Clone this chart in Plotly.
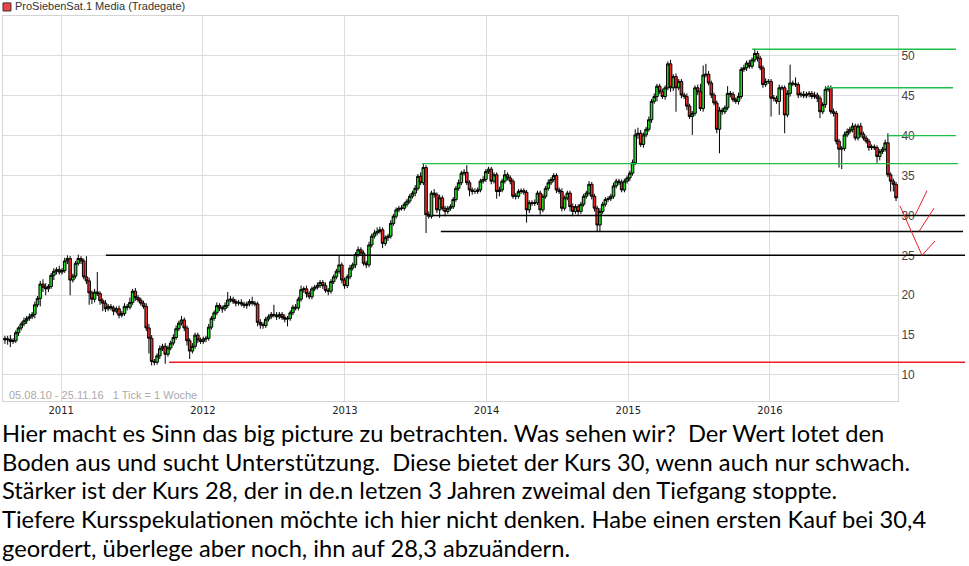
import datetime as dt
import plotly.graph_objects as go

# Weekly closing prices (EUR), one list per calendar year
close_2010 = [14.4, 14.5, 14.2, 14.3, 15.3, 15.9, 16.4, 16.8, 17.1, 17.3,
              17.6, 18.8, 19.6, 21.4, 21.0, 20.8, 21.1, 22.5, 23.0, 23.2,
              22.9]
close_2011 = [23.1, 24.3, 24.6, 21.9, 22.4, 24.0, 24.6, 24.3, 22.3, 21.8,
              20.3, 19.5, 20.4, 20.2, 19.3, 19.0, 18.3, 18.6, 18.4, 18.0,
              18.3, 17.5, 17.7, 18.6, 18.5, 19.1, 20.5, 19.7, 19.4, 19.0,
              18.6, 15.9, 14.6, 11.7, 11.6, 12.4, 13.3, 13.6, 12.6, 13.4,
              14.0, 14.7, 15.8, 16.5, 16.9, 15.9, 14.3, 13.0, 13.6, 15.0,
              14.4, 14.2]
close_2012 = [14.5, 14.6, 16.0, 17.1, 17.8, 18.7, 18.4, 18.3, 18.7, 19.4,
              19.5, 19.2, 19.0, 19.1, 18.9, 18.7, 18.9, 19.2, 19.0, 18.9,
              16.6, 16.3, 16.2, 17.0, 17.3, 17.6, 17.5, 17.3, 17.6, 17.2,
              17.0, 17.1, 17.8, 18.5, 18.4, 19.5, 20.7, 20.8, 20.2, 19.8,
              20.8, 21.0, 21.2, 21.6, 21.2, 20.6, 20.5, 21.7, 22.3, 23.0,
              23.8, 21.9]
close_2013 = [21.2, 22.3, 23.4, 23.8, 25.1, 25.7, 25.3, 24.0, 23.8, 26.3,
              27.4, 27.8, 28.0, 28.2, 26.5, 27.2, 27.4, 29.0, 29.9, 30.7,
              30.9, 30.9, 31.4, 31.8, 32.4, 32.8, 33.4, 34.9, 34.1, 36.0,
              30.1, 29.9, 32.8, 32.6, 30.7, 32.2, 30.9, 30.5, 30.9, 31.1,
              32.0, 33.4, 34.1, 35.3, 35.4, 34.1, 33.2, 33.0, 33.0, 33.2,
              34.3, 34.5]
close_2014 = [35.5, 35.8, 34.3, 35.1, 33.0, 33.2, 34.3, 35.1, 34.7, 34.3,
              32.4, 32.4, 33.0, 33.1, 32.9, 30.7, 31.6, 31.5, 31.6, 32.8,
              30.7, 32.4, 33.4, 34.1, 34.5, 35.0, 33.2, 33.0, 30.9, 32.2,
              32.8, 31.1, 30.5, 31.1, 30.5, 31.4, 32.4, 32.8, 33.9, 32.4,
              30.9, 28.8, 30.5, 31.4, 32.0, 32.1, 32.4, 33.7, 34.3, 34.1,
              33.2, 34.3]
close_2015 = [34.7, 35.3, 36.6, 40.1, 40.3, 38.9, 40.1, 40.8, 42.0, 44.3,
              44.9, 46.2, 45.5, 44.9, 46.0, 49.0, 46.0, 47.4, 46.0, 46.8,
              45.1, 44.9, 43.7, 42.4, 42.8, 46.0, 45.5, 43.4, 47.6, 47.7,
              46.6, 45.1, 44.1, 40.8, 43.2, 43.0, 43.5, 45.3, 45.2, 44.5,
              44.3, 44.9, 48.3, 48.5, 49.1, 48.7, 49.5, 50.3, 49.7, 48.5,
              46.4, 46.8]
close_2016 = [46.8, 44.7, 44.7, 44.3, 46.0, 46.0, 42.6, 45.3, 46.6, 46.5,
              46.4, 45.1, 45.2, 45.0, 45.2, 45.3, 44.9, 45.1, 44.7, 43.0,
              43.9, 45.8, 46.0, 43.0, 42.8, 39.3, 38.3, 38.4, 40.1, 40.5,
              40.8, 41.2, 39.7, 41.2, 40.2, 39.7, 39.3, 38.5, 38.6, 38.5,
              37.4, 38.0, 38.3, 39.1, 35.1, 34.3, 33.9, 32.2]

# Upper shadow above the body, per week
wick_up_2010 = [0.3, 0.4, 0.5, 0.3, 0.3, 0.2, 0.3, 0.4, 0.3, 0.4,
                0.3, 0.4, 0.3, 0.4, 0.6, 0.5, 0.3, 0.3, 0.4, 0.3,
                0.5]
wick_up_2011 = [0.3, 0.4, 0.4, 0.3, 0.3, 0.3, 0.5, 0.3, 0.3, 2.6,
                0.4, 0.3, 0.4, 2.5, 0.3, 0.3, 0.4, 0.3, 0.3, 0.3,
                0.3, 0.4, 0.3, 0.4, 0.3, 0.6, 0.3, 0.4, 0.3, 0.3,
                0.3, 0.4, 0.5, 0.4, 0.3, 0.3, 0.4, 0.3, 0.4, 0.3,
                0.3, 0.4, 0.4, 0.3, 0.5, 0.3, 0.3, 0.3, 0.4, 0.3,
                0.3, 0.3]
wick_up_2012 = [0.3, 0.3, 0.4, 0.3, 0.3, 0.4, 0.3, 0.3, 0.4, 1.0,
                0.4, 0.3, 0.3, 0.3, 0.4, 0.3, 0.3, 0.3, 0.6, 0.3,
                0.3, 0.4, 0.3, 0.3, 0.3, 0.3, 1.2, 0.4, 0.3, 0.3,
                0.4, 0.3, 0.3, 0.3, 0.4, 0.3, 0.5, 0.3, 0.4, 0.3,
                0.3, 0.3, 0.4, 0.3, 0.3, 0.4, 0.3, 0.3, 0.3, 0.3,
                1.2, 0.3]
wick_up_2013 = [0.3, 0.3, 0.4, 0.3, 0.3, 0.4, 0.3, 0.3, 0.3, 0.4,
                0.3, 0.4, 0.5, 0.4, 0.3, 0.3, 0.3, 0.4, 0.3, 0.3,
                0.3, 0.4, 0.3, 0.3, 0.3, 0.3, 0.4, 0.3, 0.5, 0.5,
                0.3, 0.4, 0.3, 0.5, 0.3, 0.4, 0.3, 0.3, 0.3, 0.3,
                0.3, 0.3, 0.4, 0.3, 0.4, 0.9, 0.3, 0.3, 0.4, 0.3,
                0.3, 0.4]
wick_up_2014 = [0.3, 0.3, 0.3, 0.3, 0.3, 0.4, 0.3, 0.6, 0.3, 0.3,
                0.3, 0.4, 0.3, 0.3, 0.3, 0.3, 0.3, 0.3, 0.4, 0.3,
                0.3, 0.3, 0.3, 0.4, 0.3, 0.3, 0.3, 0.3, 0.4, 0.3,
                0.3, 0.3, 0.4, 0.3, 0.3, 0.3, 0.3, 0.3, 0.4, 0.3,
                0.3, 0.3, 0.4, 0.3, 0.3, 0.3, 0.3, 0.4, 0.3, 0.3,
                0.4, 0.3]
wick_up_2015 = [0.3, 0.3, 0.4, 0.7, 0.7, 0.4, 0.3, 0.3, 0.4, 0.3,
                0.4, 0.3, 0.3, 0.4, 0.3, 0.3, 0.5, 0.3, 0.4, 0.3,
                0.3, 0.3, 0.4, 0.3, 0.3, 0.3, 0.4, 1.0, 1.2, 1.3,
                0.4, 0.3, 0.3, 0.3, 0.4, 0.3, 0.3, 0.9, 0.3, 0.3,
                0.3, 0.5, 0.3, 0.4, 0.3, 0.4, 0.3, 0.6, 0.3, 0.3,
                0.3, 0.4]
wick_up_2016 = [0.3, 0.3, 0.4, 0.3, 0.4, 0.3, 0.3, 0.4, 2.3, 0.3,
                0.8, 0.3, 0.3, 0.4, 0.3, 0.3, 0.3, 0.4, 0.3, 0.3,
                0.3, 0.4, 0.3, 0.3, 0.4, 0.3, 0.3, 0.3, 0.4, 0.4,
                0.3, 0.4, 0.3, 0.3, 0.4, 0.3, 0.3, 0.3, 0.3, 0.3,
                0.3, 0.3, 0.3, 0.4, 1.2, 0.3, 0.3, 0.3]

# Lower shadow below the body, per week
wick_dn_2010 = [0.5, 0.6, 0.7, 0.3, 0.3, 0.4, 0.3, 0.3, 0.4, 0.3,
                0.3, 0.5, 0.3, 1.0, 0.6, 0.8, 0.4, 0.3, 0.6, 0.4,
                0.3]
wick_dn_2011 = [0.3, 0.3, 0.4, 1.9, 0.3, 0.3, 0.3, 0.4, 0.3, 0.4,
                1.5, 0.6, 0.4, 0.3, 0.5, 1.0, 0.4, 0.3, 0.3, 0.5,
                0.3, 0.4, 0.3, 0.3, 0.4, 0.3, 0.3, 0.4, 0.3, 0.3,
                0.3, 0.4, 1.9, 0.5, 0.4, 0.3, 0.4, 0.3, 1.2, 0.3,
                0.3, 0.3, 0.3, 0.3, 0.3, 0.4, 0.6, 1.0, 0.3, 0.3,
                0.4, 0.3]
wick_dn_2012 = [0.3, 0.4, 0.3, 0.3, 0.3, 0.3, 0.4, 0.5, 0.3, 0.3,
                0.3, 0.3, 0.4, 0.3, 0.3, 0.3, 0.4, 0.3, 0.3, 0.3,
                0.5, 0.5, 0.4, 0.3, 0.3, 0.3, 0.3, 0.4, 0.3, 0.3,
                0.4, 0.9, 0.3, 0.3, 0.3, 0.3, 0.3, 0.4, 0.5, 0.3,
                0.3, 0.3, 0.3, 0.3, 0.4, 0.3, 0.5, 0.3, 0.3, 0.3,
                0.3, 0.4]
wick_dn_2013 = [0.4, 0.3, 0.3, 0.3, 0.4, 0.3, 0.3, 0.3, 0.4, 0.3,
                0.3, 0.3, 0.3, 0.3, 0.6, 0.3, 0.4, 0.3, 0.3, 0.3,
                0.3, 0.3, 0.3, 0.3, 0.3, 0.3, 0.4, 0.3, 0.3, 0.3,
                2.3, 0.3, 0.3, 0.4, 0.4, 1.0, 0.3, 0.6, 0.3, 0.3,
                0.3, 0.3, 0.3, 0.3, 0.3, 0.3, 0.8, 0.4, 0.3, 0.3,
                0.3, 0.3]
wick_dn_2014 = [0.3, 0.3, 0.4, 0.3, 0.9, 0.6, 0.3, 0.3, 0.3, 0.4,
                0.3, 0.4, 0.3, 0.3, 0.3, 1.6, 0.4, 0.3, 0.3, 0.3,
                0.6, 0.3, 0.3, 0.3, 0.3, 0.3, 0.4, 0.3, 0.4, 0.3,
                0.3, 0.6, 0.6, 0.3, 0.4, 0.3, 0.3, 0.3, 0.3, 0.4,
                0.4, 0.8, 0.8, 0.3, 0.3, 0.3, 0.3, 0.3, 0.3, 0.3,
                0.3, 0.3]
wick_dn_2015 = [0.3, 0.4, 0.3, 0.3, 0.5, 0.3, 0.4, 0.3, 0.3, 0.4,
                0.3, 0.6, 0.3, 0.3, 0.4, 0.3, 0.5, 0.4, 3.0, 0.3,
                0.4, 0.3, 0.5, 0.3, 2.3, 0.3, 0.4, 0.3, 0.4, 0.3,
                0.3, 0.4, 0.3, 0.5, 3.0, 0.4, 0.3, 0.3, 0.4, 0.3,
                0.3, 0.4, 0.3, 0.3, 0.4, 0.3, 0.3, 0.3, 0.4, 0.3,
                0.4, 0.3]
wick_dn_2016 = [0.3, 2.3, 0.4, 0.3, 1.7, 0.3, 2.3, 0.3, 0.4, 0.3,
                0.3, 0.4, 0.3, 0.3, 0.3, 0.4, 0.3, 0.3, 0.5, 0.8,
                0.3, 0.4, 0.3, 0.3, 0.4, 0.4, 2.3, 2.5, 0.3, 0.3,
                0.3, 0.4, 0.3, 0.3, 0.4, 0.3, 0.3, 0.4, 0.3, 0.3,
                0.8, 0.5, 0.3, 0.3, 0.3, 1.3, 0.9, 0.4]

first_open = 14.6
first_week = dt.date(2010, 8, 9)

# Support / resistance levels and the week each line starts
green_levels = [50.84, 46.0, 40.0, 36.5]
green_starts = ["2015-11-16", "2016-05-23", "2016-10-31", "2013-07-19"]
green_ends = [1.0648, 1.0615, 1.0648, 1.067]
black_levels = [30.0, 28.0, 25.0]
black_starts = ["2013-08-12", "2013-09-05", "2011-04-26"]
black_ends = [1.0749, 1.0726, 1.0749]
red_level = 11.6
red_start = "2011-10-06"
red_end = 1.0749

year_ticks = ["2011-01-01", "2012-01-01", "2013-01-01", "2014-01-01",
              "2015-01-01", "2016-01-01"]
year_labels = ["2011", "2012", "2013", "2014", "2015", "2016"]
price_ticks = [10, 15, 20, 25, 30, 35, 40, 45, 50]

x_start, x_end = "2010-08-04", "2016-11-26"

comment_lines = [
    "Hier macht es Sinn das big picture zu betrachten. Was sehen wir?  Der Wert lotet den",
    "Boden aus und sucht Unterstützung.  Diese bietet der Kurs 30, wenn auch nur schwach.",
    "Stärker ist der Kurs 28, der in de.n letzen 3 Jahren zweimal den Tiefgang stoppte.",
    "Tiefere Kursspekulationen möchte ich hier nicht denken. Habe einen ersten Kauf bei 30,4",
    "geordert, überlege aber noch, ihn auf 28,3 abzuändern.",
]

closes = (close_2010 + close_2011 + close_2012 + close_2013 + close_2014
          + close_2015 + close_2016)
wick_up = (wick_up_2010 + wick_up_2011 + wick_up_2012 + wick_up_2013
           + wick_up_2014 + wick_up_2015 + wick_up_2016)
wick_dn = (wick_dn_2010 + wick_dn_2011 + wick_dn_2012 + wick_dn_2013
           + wick_dn_2014 + wick_dn_2015 + wick_dn_2016)

weeks = [first_week + dt.timedelta(weeks=k) for k in range(len(closes))]
opens = [first_open] + closes[:-1]
highs = [round(max(o, c) + u, 2) for o, c, u in zip(opens, closes, wick_up)]
lows = [round(min(o, c) - d, 2) for o, c, d in zip(opens, closes, wick_dn)]

fig = go.Figure(go.Candlestick(
    x=weeks, open=opens, high=highs, low=lows, close=closes,
    increasing=dict(fillcolor="#22dd22", line=dict(color="#000000", width=1)),
    decreasing=dict(fillcolor="#ee2a2a", line=dict(color="#000000", width=1)),
    whiskerwidth=0, showlegend=False, hoverinfo="skip",
))

shapes = []


def level_line(level, start, end_paper, color, width):
    # part inside the plot, then the stub running past the price axis
    shapes.append(dict(type="line", xref="x", yref="y", x0=start, x1=x_end,
                       y0=level, y1=level, line=dict(color=color, width=width)))
    shapes.append(dict(type="line", xref="paper", yref="y", x0=1, x1=end_paper,
                       y0=level, y1=level, line=dict(color=color, width=width)))


for lv, st, en in zip(green_levels, green_starts, green_ends):
    level_line(lv, st, en, "#1fc04a", 1.4)
for lv, st, en in zip(black_levels, black_starts, black_ends):
    level_line(lv, st, en, "#000000", 1.5)
level_line(red_level, red_start, red_end, "#ed1c24", 1.5)

# hand-drawn forecast strokes next to the price axis
doodle = dict(type="path", xref="paper", yref="y",
              line=dict(color="#ed1c24", width=1))
shapes.append(dict(doodle, path="M 1.0022,31.2 L 1.0268,25.0 L 1.0413,26.8"))
shapes.append(dict(doodle, path="M 1.019,30.0 L 1.0324,33.1"))
shapes.append(dict(doodle, path="M 1.0235,28.0 L 1.0402,30.9"))

# legend marker square
shapes.append(dict(type="rect", xref="paper", yref="paper",
                   x0=0.0, x1=0.0089, y0=1.013, y1=1.034,
                   fillcolor="#ee4444", line=dict(color="#333333", width=1)))

annotations = [
    dict(text="ProSiebenSat.1 Media (Tradegate)", xref="paper", yref="paper",
         x=0.0112, y=1.026, xanchor="left", yanchor="middle", showarrow=False,
         font=dict(family="Liberation Sans, Arial", size=11, color="#333333")),
    dict(text="05.08.10 - 25.11.16   1 Tick = 1 Woche", xref="paper", yref="paper",
         x=0.0045, y=0.016, xanchor="left", yanchor="middle", showarrow=False,
         font=dict(family="Liberation Sans, Arial", size=11, color="#aaaaaa")),
]
for k, line in enumerate(comment_lines):
    annotations.append(dict(
        text=line, xref="paper", yref="paper", x=-0.003, y=-0.0416 - 0.0746 * k,
        xanchor="left", yanchor="top", align="left", showarrow=False,
        font=dict(family="Lato", size=23.7, color="#000000")))

fig.update_layout(
    width=969, height=566,
    margin=dict(l=3, r=71, t=16, b=165, pad=0),
    paper_bgcolor="#ffffff", plot_bgcolor="#ffffff",
    boxgap=0.05, boxgroupgap=0,
    shapes=shapes, annotations=annotations,
    xaxis=dict(
        type="date", range=[x_start, x_end], rangeslider=dict(visible=False),
        tickvals=year_ticks, ticktext=year_labels, ticks="",
        showgrid=True, gridcolor="#dddddd", gridwidth=1,
        showline=True, mirror=True, linecolor="#d4d4d4", linewidth=1,
        zeroline=False,
        tickfont=dict(family="DejaVu Sans", size=10, color="#222222"),
    ),
    yaxis=dict(
        side="right", range=[6.74, 55.0], tickvals=price_ticks, ticks="",
        showgrid=True, gridcolor="#dddddd", gridwidth=1,
        showline=True, mirror=True, linecolor="#d4d4d4", linewidth=1,
        zeroline=False,
        tickfont=dict(family="Liberation Sans, Arial", size=12, color="#444444"),
    ),
)

fig.write_html("out.html")
